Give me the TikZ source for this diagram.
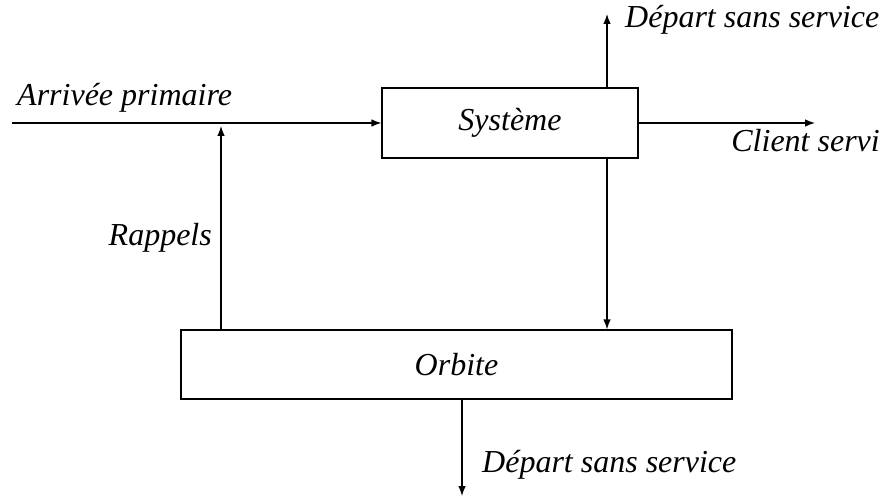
\documentclass[tikz,border=0pt]{standalone}
\usepackage{fontspec}
\setmainfont{Liberation Serif}
\usetikzlibrary{arrows.meta}

\tikzset{
    boite/.style={draw, line width=1.2pt, minimum width=#1, minimum height=70pt, inner sep=0pt,
        font=\fontsize{32}{36}\selectfont\itshape},
    etiq/.style={inner sep=0pt, font=\fontsize{32}{36}\selectfont\itshape},
    fleche/.style={line width=1.2pt, -{Latex[length=10pt,width=7.5pt]}},
}

\begin{document}
\begin{tikzpicture}[x=1pt, y=-1pt]
    \useasboundingbox (0,0) rectangle (886,497);

    % les deux blocs
    \node[boite=256pt] (sys) at (510,123) {Système};
    \node[boite=551pt, minimum height=69pt] (orb) at (456.5,364.5) {Orbite};

    % extremites libres
    \coordinate (entree) at (12,123);
    \coordinate (jonction) at (221,126);
    \coordinate (haut) at (607,14);
    \coordinate (droite) at (815,123);
    \coordinate (bas) at (462,496);

    % flux
    \draw[fleche] (entree) -- (sys.west);
    \draw[fleche] (orb.north -| jonction) -- (jonction);
    \draw[fleche] (sys.north -| haut) -- (haut);
    \draw[fleche] (sys.east) -- (droite);
    \draw[fleche] (sys.south -| haut) -- (orb.north -| haut);
    \draw[fleche] (orb.south -| bas) -- (bas);

    % textes
    \node[etiq, anchor=base west] (arrivee) at (17,106) {Arrivée primaire};
    \node[etiq, anchor=base east] (rappels) at (212,245) {Rappels};
    \node[etiq, anchor=base west] (depart1) at (625,28) {Départ sans service};
    \node[etiq, anchor=base east] (servi) at (880,152) {Client servi};
    \node[etiq, anchor=base west] (depart2) at (482,472) {Départ sans service};
\end{tikzpicture}
\end{document}
